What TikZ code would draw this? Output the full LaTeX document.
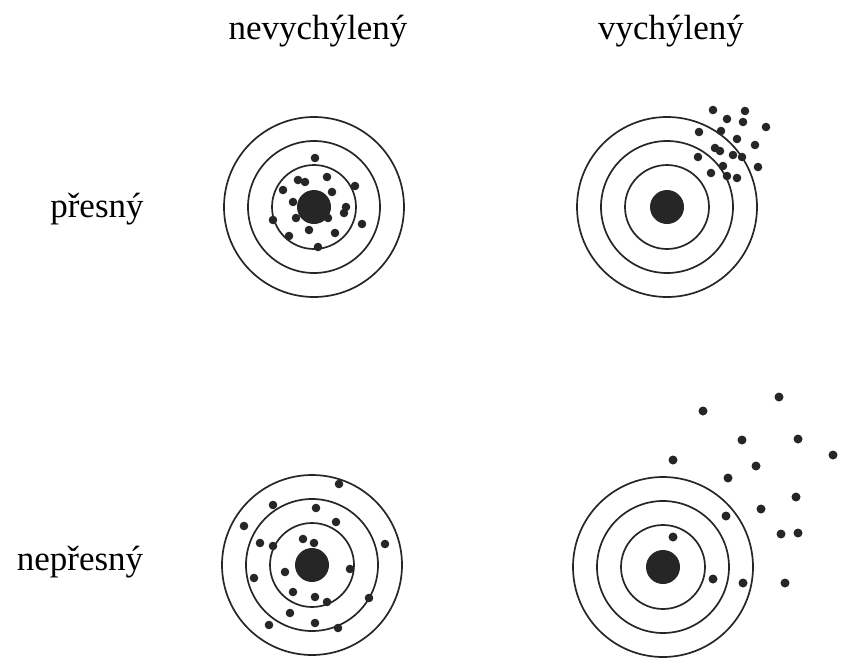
\documentclass[tikz,border=0pt]{standalone}
\usepackage{fontspec}
\setmainfont{Liberation Serif}
\usepackage{tikz}

\tikzset{
  ring/.style={draw=black!85, line width=1.7pt},
  hit/.style={fill=black!85},
  label/.style={font=\fontsize{35}{40}\selectfont, anchor=base, inner sep=0pt}
}

\begin{document}
\begin{tikzpicture}[x=1pt,y=-1pt]
  \useasboundingbox (0,0) rectangle (841,667);

  % column and row labels
  \node[label] (unbiased) at (318,39) {nevychýlený};
  \node[label] (biased) at (671,39) {vychýlený};
  \node[label] (precise) at (97,217) {přesný};
  \node[label] (imprecise) at (80,570) {nepřesný};

  % Target 1: unbiased, precise
  \begin{scope}[shift={(314,207)}]
  \foreach \r in {90,66,42} \draw[ring] (0,0) circle(\r);
  \fill[hit] (0,0) circle(17);
  \foreach \p in {(1,-49),(-16,-27),(-9,-25),(13,-30),(-31,-17),(18,-15),
      (41,-21),(-21,-5),(32,0),(30,6),(-41,13),(-18,11),(14,11),(48,17),
      (-5,23),(21,26),(-25,29),(4,40)}
    \fill[hit] \p circle(4.3);
  \end{scope}

  % Target 2: biased, precise
  \begin{scope}[shift={(667,207)}]
  \foreach \r in {90,66,42} \draw[ring] (0,0) circle(\r);
  \fill[hit] (0,0) circle(17);
  \foreach \p in {(46,-97),(78,-96),(60,-88),(76,-85),(99,-80),(32,-75),
      (54,-76),(70,-68),(88,-62),(48,-59),(53,-56),(66,-52),(75,-50),
      (31,-50),(56,-41),(91,-40),(44,-34),(60,-31),(70,-29)}
    \fill[hit] \p circle(4.3);
  \end{scope}

  % Target 3: unbiased, imprecise
  \begin{scope}[shift={(312,565)}]
  \foreach \r in {90,66,42} \draw[ring] (0,0) circle(\r);
  \fill[hit] (0,0) circle(17);
  \foreach \p in {(27,-81),(-39,-60),(4,-57),(-68,-39),(24,-43),(-52,-22),
      (-39,-19),(-9,-26),(2,-22),(73,-21),(-58,13),(-27,7),(38,4),
      (-19,27),(3,32),(15,37),(57,33),(-22,48),(3,58),(-43,60),(26,63)}
    \fill[hit] \p circle(4.3);
  \end{scope}

  % Target 4: biased, imprecise
  \begin{scope}[shift={(663,567)}]
  \foreach \r in {90,66,42} \draw[ring] (0,0) circle(\r);
  \fill[hit] (0,0) circle(17);
  \foreach \p in {(116,-170),(40,-156),(79,-127),(135,-128),(170,-112),
      (10,-107),(93,-101),(65,-89),(133,-70),(98,-58),(63,-51),
      (118,-33),(135,-34),(10,-30),(50,12),(80,16),(122,16)}
    \fill[hit] \p circle(4.5);
  \end{scope}
\end{tikzpicture}
\end{document}
